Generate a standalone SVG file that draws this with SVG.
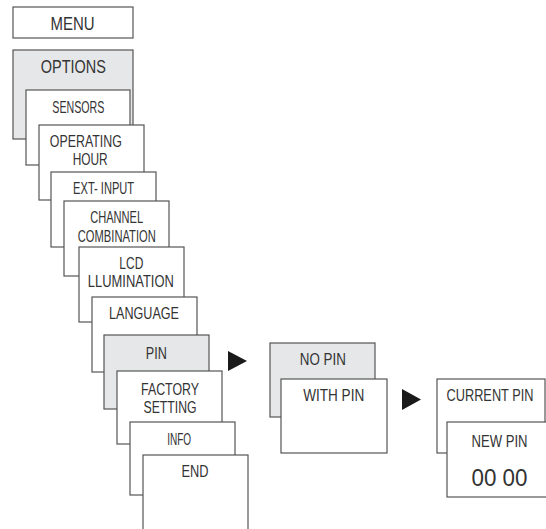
<svg xmlns="http://www.w3.org/2000/svg" width="546" height="529" viewBox="0 0 546 529">
<style>
.b{fill:#ffffff;stroke:#555555;stroke-width:1.2}
.g{fill:#e6e7e9;stroke:#555555;stroke-width:1.2}
text{font-family:"Liberation Sans",Arial,sans-serif;font-size:16.5px;fill:#333333;text-anchor:middle}
.l{font-size:17.5px}
.xl{font-size:23px}
.arr{fill:#1a1a1a}
</style>
<rect width="546" height="529" fill="#ffffff"/>
<g id="menu"><rect class="b" x="13" y="7" width="120" height="31"/><text class="l" x="72.5" y="29.5" textLength="44" lengthAdjust="spacingAndGlyphs">MENU</text></g>
<g id="options"><rect class="g" x="13" y="50" width="120" height="89"/><text class="l" x="73.3" y="73" textLength="65" lengthAdjust="spacingAndGlyphs">OPTIONS</text></g>
<g id="sensors"><rect class="b" x="26" y="90" width="104" height="75"/><text x="78.3" y="113.3" textLength="52" lengthAdjust="spacingAndGlyphs">SENSORS</text></g>
<g id="operating-hour"><rect class="b" x="39" y="125" width="105" height="75"/><text x="85.8" y="146.7" textLength="72" lengthAdjust="spacingAndGlyphs">OPERATING</text><text x="90.2" y="165" textLength="35" lengthAdjust="spacingAndGlyphs">HOUR</text></g>
<g id="ext-input"><rect class="b" x="51" y="172" width="105" height="75"/><text x="103.6" y="194" textLength="61" lengthAdjust="spacingAndGlyphs">EXT- INPUT</text></g>
<g id="channel-combination"><rect class="b" x="64" y="201" width="105" height="75"/><text x="116.7" y="222.7" textLength="53" lengthAdjust="spacingAndGlyphs">CHANNEL</text><text x="116.8" y="241.7" textLength="78" lengthAdjust="spacingAndGlyphs">COMBINATION</text></g>
<g id="lcd-illumination"><rect class="b" x="79" y="247" width="105" height="75"/><text x="131.3" y="269.3" textLength="24" lengthAdjust="spacingAndGlyphs">LCD</text><text x="130.8" y="287.3" textLength="86" lengthAdjust="spacingAndGlyphs">LLUMINATION</text></g>
<g id="language"><rect class="b" x="92" y="297" width="105" height="75"/><text x="144" y="319.3" textLength="70" lengthAdjust="spacingAndGlyphs">LANGUAGE</text></g>
<g id="pin"><rect class="g" x="104" y="335" width="105" height="74"/><text x="156.3" y="359.3" textLength="21" lengthAdjust="spacingAndGlyphs">PIN</text></g>
<g id="factory-setting"><rect class="b" x="117" y="371" width="105" height="73"/><text x="170" y="395" textLength="58" lengthAdjust="spacingAndGlyphs">FACTORY</text><text x="170" y="413.3" textLength="53" lengthAdjust="spacingAndGlyphs">SETTING</text></g>
<g id="info"><rect class="b" x="130" y="422" width="105" height="73"/><text x="179.2" y="445" textLength="24" lengthAdjust="spacingAndGlyphs">INFO</text></g>
<g id="end"><rect class="b" x="143" y="455" width="105" height="80"/><text x="195" y="476.7" textLength="27" lengthAdjust="spacingAndGlyphs">END</text></g>
<g id="no-pin"><rect class="g" x="270" y="343" width="105" height="74"/><text x="322.8" y="365" textLength="46" lengthAdjust="spacingAndGlyphs">NO PIN</text></g>
<g id="with-pin"><rect class="b" x="281" y="379" width="106" height="74"/><text x="333.7" y="401" textLength="61" lengthAdjust="spacingAndGlyphs">WITH PIN</text></g>
<g id="current-pin"><rect class="b" x="437" y="379" width="108" height="74"/><text x="490" y="400.8" textLength="87" lengthAdjust="spacingAndGlyphs">CURRENT PIN</text></g>
<g id="new-pin"><rect class="b" x="447" y="422" width="110" height="75"/><text x="499.5" y="446.7" textLength="56" lengthAdjust="spacingAndGlyphs">NEW PIN</text><text class="xl" x="499.5" y="486" textLength="56" lengthAdjust="spacingAndGlyphs">00 00</text></g>
<g id="connectors">
<polygon class="arr" points="228,351 247,361 228,371"/>
<polygon class="arr" points="402,389 421,399.5 402,410"/>
</g>
</svg>
